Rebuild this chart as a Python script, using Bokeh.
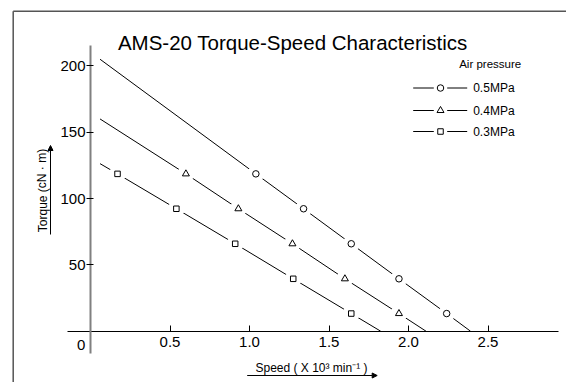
from bokeh.plotting import figure
from bokeh.models import Range1d, LinearAxis, FixedTicker, Arrow, NormalHead, Grid
from bokeh.core.properties import value
from bokeh.embed import file_html
from bokeh.resources import INLINE

# ---------------- data ----------------
pressures = ["0.5MPa", "0.4MPa", "0.3MPa"]
markers = ["circle", "triangle", "square"]
line_start_speed = 0.06
stall_torque = [205.0, 160.0, 126.3]        # torque at line start (speed 0.06)
no_load_speed = [2.39, 2.11, 1.825]         # speed at zero torque
marker_torque = [118.6, 92.3, 65.9, 39.5, 13.3]
speed_05 = [1.04, 1.34, 1.64, 1.94, 2.24]
speed_04 = [0.60, 0.93, 1.27, 1.60, 1.94]
speed_03 = [0.17, 0.54, 0.91, 1.275, 1.64]
marker_speeds = [speed_05, speed_04, speed_03]

x_ticks = [0.5, 1.0, 1.5, 2.0, 2.5]
x_tick_labels = ["0.5", "1.0", "1.5", "2.0", "2.5"]
y_ticks = [50, 100, 150, 200]
y_tick_labels = ["50", "100", "150", "200"]

title = "AMS-20 Torque-Speed Characteristics"
x_label = "Speed ( X 10\u00b3 min\u207b\u00b9 )"
y_label = "Torque (cN \u00b7 m)"
legend_title = "Air pressure"

# ---------------- layout ----------------
W, H = 566, 382
X0_PX, X_SCALE = 90.0, 159.0      # canvas px of speed 0, px per unit
Y0_PX, Y_SCALE = 330.7, 1.3266    # canvas px of torque 0, px per unit
FONT = value("Liberation Sans")


def px(wx):
    return (wx - X0_PX) / X_SCALE


def py(wy):
    return (Y0_PX - wy) / Y_SCALE


p = figure(width=W, height=H,
           x_range=Range1d(-X0_PX / X_SCALE, (W - X0_PX) / X_SCALE),
           y_range=Range1d((Y0_PX - H) / Y_SCALE, Y0_PX / Y_SCALE),
           output_backend="svg", toolbar_location=None,
           x_axis_location=None, y_axis_location=None,
           min_border=0, outline_line_color=None,
           background_fill_color="white", border_fill_color="white")
p.center = [r for r in p.center if not isinstance(r, Grid)]

# frame border (left and top edges visible)
p.segment(x0=[px(12.7), px(12.7)], y0=[py(H), py(10.7)],
          x1=[px(12.7), px(W)], y1=[py(10.7), py(10.7)],
          line_color="#555555", line_width=1.5)

# axes crossing at the origin
xaxis = LinearAxis(fixed_location=0, bounds=(px(67), px(558)),
                   ticker=FixedTicker(ticks=x_ticks),
                   major_label_overrides={t: l for t, l in zip(x_ticks, x_tick_labels)},
                   axis_line_color="black", axis_line_width=1,
                   major_tick_in=6, major_tick_out=0,
                   major_tick_line_color="black",
                   minor_tick_line_color=None,
                   major_label_standoff=6,
                   major_label_text_font="Liberation Sans",
                   major_label_text_font_size="15px",
                   major_label_text_color="black")
p.add_layout(xaxis, "below")

yaxis = LinearAxis(fixed_location=0, bounds=(py(353), py(45)),
                   ticker=FixedTicker(ticks=y_ticks),
                   major_label_overrides={t: l for t, l in zip(y_ticks, y_tick_labels)},
                   axis_line_color="#808080", axis_line_width=2,
                   major_tick_in=3, major_tick_out=4,
                   major_tick_line_color="black",
                   minor_tick_line_color=None,
                   major_label_standoff=1,
                   major_label_text_font="Liberation Sans",
                   major_label_text_font_size="15px",
                   major_label_text_color="black")
p.add_layout(yaxis, "left")

# origin label
p.text(x=[px(80.7)], y=[py(344.3)], text=["0"], text_font=FONT,
       text_font_size="15px", text_align="center", text_baseline="middle",
       text_color="black")

# ---------------- series ----------------
for i in range(3):
    xs = [line_start_speed] + marker_speeds[i] + [no_load_speed[i]]
    ys = [stall_torque[i]] + marker_torque + [0.0]
    p.line(xs, ys, line_color="black", line_width=1)

for i in range(3):
    p.scatter(marker_speeds[i], marker_torque, marker="circle", size=17,
              fill_color="white", line_color=None)

msize = {"circle": 6.5, "triangle": 7, "square": 5.5}
for i in range(3):
    p.scatter(marker_speeds[i], marker_torque, marker=markers[i],
              size=msize[markers[i]], fill_color="white",
              line_color="black", line_width=1)

# ---------------- legend ----------------
p.text(x=[px(489.7)], y=[py(63.3)], text=[legend_title], text_font=FONT,
       text_font_size="11.5px", text_align="center", text_baseline="middle",
       text_color="black")
row_y = [87.5, 110.0, 131.0]
for i in range(3):
    yy = py(row_y[i])
    p.segment(x0=[px(412.7), px(446.7)], y0=[yy, yy],
              x1=[px(433.3), px(466.7)], y1=[yy, yy],
              line_color="black", line_width=1)
    p.scatter([px(440)], [yy], marker=markers[i], size=msize[markers[i]],
              fill_color="white", line_color="black", line_width=1)
    p.text(x=[px(472.7)], y=[yy], text=[pressures[i]], text_font=FONT,
           text_font_size="12px", text_align="left", text_baseline="middle",
           text_color="black")

# ---------------- titles ----------------
p.text(x=[px(292.3)], y=[py(41.7)], text=[title], text_font=FONT,
       text_font_size="20.5px", text_align="center", text_baseline="alphabetic",
       text_color="black")

p.text(x=[px(311)], y=[py(367.7)], text=[x_label], text_font=FONT,
       text_font_size="12px", text_align="center", text_baseline="middle",
       text_color="black")
p.add_layout(Arrow(end=NormalHead(size=5, fill_color="black", line_color="black"),
                   x_start=px(246.7), y_start=py(375), x_end=px(376.7), y_end=py(375),
                   line_color="black", line_width=1))

p.text(x=[px(42)], y=[py(190)], text=[y_label], text_font=FONT,
       text_font_size="12px", text_align="center", text_baseline="middle",
       angle=1.5708, text_color="black")
p.add_layout(Arrow(end=NormalHead(size=5, fill_color="black", line_color="black"),
                   x_start=px(50), y_start=py(234), x_end=px(50), y_end=py(145),
                   line_color="black", line_width=1))

open("out.html", "w").write(file_html(p, INLINE))
